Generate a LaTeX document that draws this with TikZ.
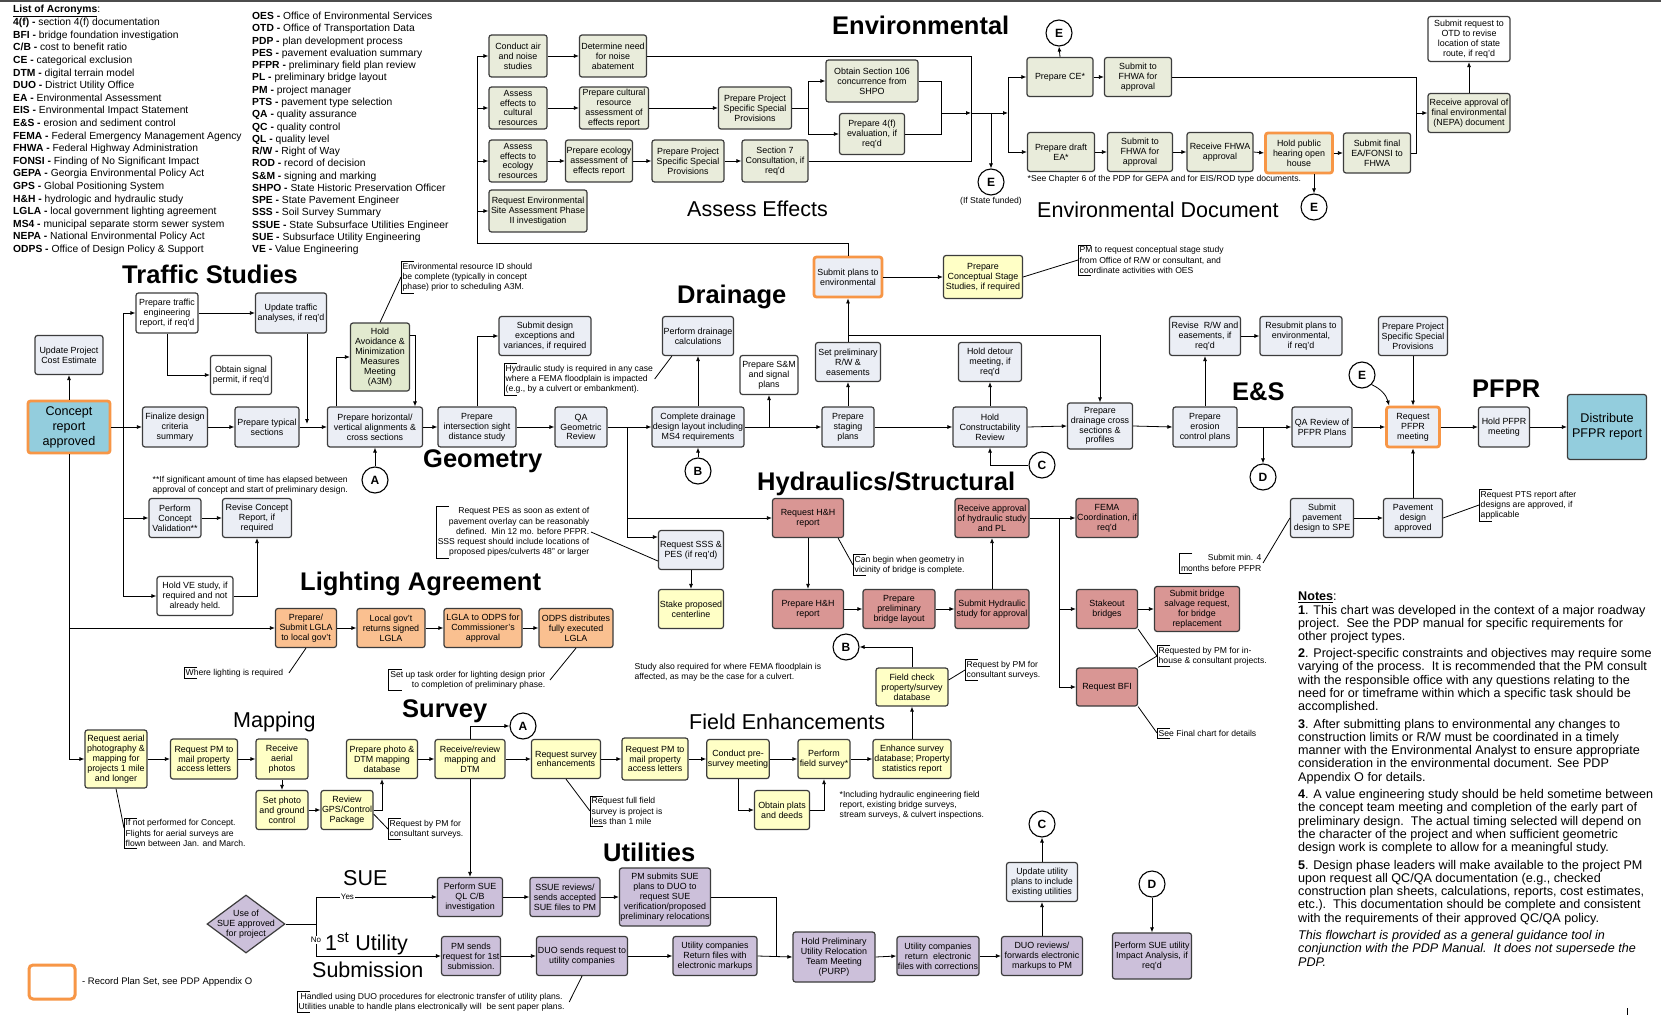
\documentclass[tikz,border=0pt]{standalone}
\usepackage{fontspec}
\setmainfont{Liberation Sans}
\usetikzlibrary{arrows.meta,shapes.geometric}

\definecolor{bd}{HTML}{3C3C3C}
\definecolor{envc}{HTML}{E9ECDB}
\definecolor{trfc}{HTML}{EBEEF5}
\definecolor{ylwc}{HTML}{FFFFC6}
\definecolor{hydc}{HTML}{D99694}
\definecolor{lgtc}{HTML}{FAC090}
\definecolor{purc}{HTML}{CCC0DA}
\definecolor{teac}{HTML}{93CDDD}
\definecolor{a3mc}{HTML}{E2EACF}
\definecolor{orgc}{HTML}{F79646}

\newcommand{\bxfont}{\fontsize{8.9}{9.9}\selectfont}
\newcommand{\bigbxfont}{\fontsize{12.6}{15}\selectfont}
\newcommand{\ntfont}{\fontsize{8.6}{10.2}\selectfont}
\newcommand{\ttlb}{\fontsize{25.5}{28}\selectfont\bfseries}
\newcommand{\ttlr}{\fontsize{21.5}{24}\selectfont}
\newcommand{\acr}[2]{\textbf{#1 -} #2}
\newcommand{\notebrk}[1]{\draw[line width=0.7pt] ([xshift=13pt]#1.north west) -| (#1.south west) -- ++(13,0);}

\begin{document}
\begin{tikzpicture}[x=1pt,y=-1pt,
  bx/.style={draw=bd, line width=1.2pt, rounded corners=2.5pt, align=center, inner sep=1pt, font=\bxfont, fill=trfc},
  sz/.style 2 args={minimum width=#1pt, minimum height=#2pt},
  envbox/.style={bx, fill=envc},
  trfbox/.style={bx, fill=trfc},
  whtbox/.style={bx, fill=white},
  ylwbox/.style={bx, fill=ylwc},
  hydbox/.style={bx, fill=hydc},
  lgtbox/.style={bx, fill=lgtc},
  purbox/.style={bx, fill=purc},
  a3mbox/.style={bx, fill=a3mc},
  teabox/.style={bx, fill=teac, font=\bigbxfont},
  recplan/.style={draw=orgc, line width=2.8pt},
  cir/.style={circle, draw=black, line width=1.1pt, fill=white, minimum size=26pt, inner sep=0pt, font=\bfseries\fontsize{12}{12}\selectfont},
  ln/.style={line width=0.8pt},
  arr/.style={line width=0.8pt, -{Latex[length=5pt,width=4pt]}},
  note/.style={font=\ntfont, inner sep=1.5pt, align=left},
  ttlB/.style={font=\ttlb, inner sep=0pt, anchor=base west},
  ttlR/.style={font=\ttlr, inner sep=0pt, anchor=base west},
]
\fill[white] (0,0) rectangle (1661,1016);
\useasboundingbox (0,0) rectangle (1661,1016);
\draw[line width=1.6pt, black!70] (0,1) -- (1661,1);

% ---------------- acronyms ----------------
\node[anchor=base west, inner sep=0pt, font=\fontsize{10.3}{12.5}\selectfont] (acrH) at (13,13) {\textbf{\underline{List of Acronyms}}:};
\node[anchor=north west, inner sep=0pt, align=left, font=\fontsize{10.3}{12.6}\selectfont] (acrL) at (13,18) {%
\acr{4(f)}{section 4(f) documentation}\\
\acr{BFI}{bridge foundation investigation}\\
\acr{C/B}{cost to benefit ratio}\\
\acr{CE}{categorical exclusion}\\
\acr{DTM}{digital terrain model}\\
\acr{DUO}{District Utility Office}\\
\acr{EA}{Environmental Assessment}\\
\acr{EIS}{Environmental Impact Statement}\\
\acr{E\&S}{erosion and sediment control}\\
\acr{FEMA}{Federal Emergency Management Agency}\\
\acr{FHWA}{Federal Highway Administration}\\
\acr{FONSI}{Finding of No Significant Impact}\\
\acr{GEPA}{Georgia Environmental Policy Act}\\
\acr{GPS}{Global Positioning System}\\
\acr{H\&H}{hydrologic and hydraulic study}\\
\acr{LGLA}{local government lighting agreement}\\
\acr{MS4}{municipal separate storm sewer system}\\
\acr{NEPA}{National Environmental Policy Act}\\
\acr{ODPS}{Office of Design Policy \& Support}};
\node[anchor=north west, inner sep=0pt, align=left, font=\fontsize{10.3}{12.26}\selectfont] (acrR) at (252,12) {%
\acr{OES}{Office of Environmental Services}\\
\acr{OTD}{Office of Transportation Data}\\
\acr{PDP}{plan development process}\\
\acr{PES}{pavement evaluation summary}\\
\acr{PFPR}{preliminary field plan review}\\
\acr{PL}{preliminary bridge layout}\\
\acr{PM}{project manager}\\
\acr{PTS}{pavement type selection}\\
\acr{QA}{quality assurance}\\
\acr{QC}{quality control}\\
\acr{QL}{quality level}\\
\acr{R/W}{Right of Way}\\
\acr{ROD}{record of decision}\\
\acr{S\&M}{signing and marking}\\
\acr{SHPO}{State Historic Preservation Officer}\\
\acr{SPE}{State Pavement Engineer}\\
\acr{SSS}{Soil Survey Summary}\\
\acr{SSUE}{State Subsurface Utilities Engineer}\\
\acr{SUE}{Subsurface Utility Engineering}\\
\acr{VE}{Value Engineering}};

% ---------------- section titles ----------------
\node[ttlB] (tEnv) at (832,35) {Environmental};
\node[ttlR] (tAss) at (687,217) {Assess Effects};
\node[ttlR] (tDoc) at (1037,218) {Environmental Document};
\node[ttlB] (tTraf) at (122,283) {Traffic Studies};
\node[ttlB] (tDrain) at (677,303) {Drainage};
\node[ttlB] (tGeo) at (423,467) {Geometry};
\node[ttlB] (tHyd) at (757,490) {Hydraulics/Structural};
\node[ttlB] (tES) at (1232,400) {E\&S};
\node[ttlB] (tPFPR) at (1472,397) {PFPR};
\node[ttlB] (tLight) at (300,590) {Lighting Agreement};
\node[ttlB] (tSurv) at (402,717) {Survey};
\node[ttlR] (tMap) at (233,727) {Mapping};
\node[ttlR] (tField) at (689,729) {Field Enhancements};
\node[ttlB] (tUtil) at (603,861) {Utilities};
\node[ttlR] (tSUE) at (343,885) {SUE};
\node[ttlR] (tFirst) at (325,950) {1\textsuperscript{st} Utility};
\node[ttlR] (tSubm) at (312,977) {Submission};

% ---------------- environmental ----------------
\node[envbox, sz={58}{42}] (conduct) at (518,56) {Conduct air\\and noise\\studies};
\node[envbox, sz={67}{42}] (noise) at (613,56) {Determine need\\for noise\\abatement};
\node[envbox, sz={58}{42}] (acult) at (518,108) {Assess\\effects to\\cultural\\resources};
\node[envbox, sz={69}{42}] (pcult) at (614,108) {Prepare cultural\\resource\\assessment of\\effects report};
\node[envbox, sz={73}{42}] (pssp1) at (755,108) {Prepare Project\\Specific Special\\Provisions};
\node[envbox, sz={58}{42}] (aeco) at (518,161) {Assess\\effects to\\ecology\\resources};
\node[envbox, sz={67}{42}] (peco) at (599,161) {Prepare ecology\\assessment of\\effects report};
\node[envbox, sz={72}{42}] (pssp2) at (688,161) {Prepare Project\\Specific Special\\Provisions};
\node[envbox, sz={66}{42}] (sec7) at (775,161) {Section 7\\Consultation, if\\req'd};
\node[envbox, sz={98}{42}] (esa) at (538,211) {Request Environmental\\Site Assessment Phase\\II investigation};
\node[envbox, sz={92}{42}] (obtain) at (872,81) {Obtain Section 106\\concurrence from\\SHPO};
\node[envbox, sz={65}{41}] (p4f) at (872,134) {Prepare 4(f)\\evaluation, if\\req'd};
\node[envbox, sz={66}{39}] (prepce) at (1060,77) {Prepare CE*};
\node[envbox, sz={67}{39}] (subf1) at (1138,77) {Submit to\\FHWA for\\approval};
\node[envbox, sz={67}{39}] (draftea) at (1061,152) {Prepare draft\\EA*};
\node[envbox, sz={65}{39}] (subf2) at (1140,152) {Submit to\\FHWA for\\approval};
\node[envbox, sz={66}{39}] (recf) at (1220,152) {Receive FHWA\\approval};
\node[envbox, recplan, sz={67}{40}] (hearing) at (1299,153) {Hold public\\hearing open\\house};
\node[envbox, sz={67}{40}] (subfin) at (1377,153) {Submit final\\EA/FONSI to\\FHWA};
\node[envbox, sz={82}{39}] (recfin) at (1469,113) {Receive approval of\\final environmental\\(NEPA) document};
\node[whtbox, sz={82}{45}] (otd) at (1469,39) {Submit request to\\OTD to revise\\location of state\\route, if req'd};
\node[cir] (cEtop) at (1059,33) {E};
\node[cir] (cEsf) at (991,182) {E};
\node[cir] (cEhear) at (1314,207) {E};
\node[note] (nSFd) at (991,201) {(If State funded)};
\node[note, anchor=west] (nCh) at (1026,179) {*See Chapter 6 of the PDP for GEPA and for EIS/ROD type documents.};

\coordinate (envL) at (477,243);
\coordinate (jP) at (808,108);
\coordinate (jA) at (941,113);
\coordinate (jB) at (971,113);
\coordinate (jD) at (991,113);
\coordinate (jC) at (1008,113);
\coordinate (jF) at (1416,113);

% ---------------- traffic studies ----------------
\node[whtbox, sz={62}{40}] (ptraffic) at (167,313) {Prepare traffic\\engineering\\report, if req'd};
\node[trfbox, sz={71}{40}] (updtraffic) at (291,313) {Update traffic\\analyses, if req'd};
\node[trfbox, sz={68}{39}] (updcost) at (69,355) {Update Project\\Cost Estimate};
\node[teabox, recplan, sz={82}{52}] (concept) at (69,427) {Concept\\report\\approved};
\node[whtbox, sz={61}{39}] (signal) at (241,375) {Obtain signal\\permit, if req'd};
\node[trfbox, sz={65}{40}] (finalize) at (175,427) {Finalize design\\criteria\\summary};
\node[trfbox, sz={64}{40}] (ptypical) at (267,427) {Prepare typical\\sections};
\node[a3mbox, sz={59}{68}] (a3m) at (380,357) {Hold\\Avoidance \&\\Minimization\\Measures\\Meeting\\(A3M)};
\node[trfbox, sz={95}{40}] (phoriz) at (375,427) {Prepare horizontal/\\vertical alignments \&\\cross sections};
\node[cir] (cA) at (375,480) {A};
\node[trfbox, sz={52}{39}] (pcv) at (175,518) {Perform\\Concept\\Validation**};
\node[trfbox, sz={69}{39}] (revcon) at (257,518) {Revise Concept\\Report, if\\required};
\node[whtbox, sz={76}{39}] (holdve) at (195,596) {Hold VE study, if\\required and not\\already held.};
\node[note, anchor=west] (nSig) at (151,485) {**If significant amount of time has elapsed between\\approval of concept and start of preliminary design.};
\node[note, anchor=west] (nEnv) at (401,277) {Environmental resource ID should\\be complete (typically in concept\\phase) prior to scheduling A3M.};
\notebrk{nEnv}
\coordinate (tTop) at (123,313);
\coordinate (tBot) at (123,596);
\coordinate (tU) at (307,424);

% ---------------- geometry ----------------
\node[trfbox, sz={78}{40}] (pisd) at (477,427) {Prepare\\intersection sight\\distance study};
\node[trfbox, sz={92}{39}] (subdes) at (545,336) {Submit design\\exceptions and\\variances, if required};
\node[trfbox, sz={52}{40}] (qa) at (581,427) {QA\\Geometric\\Review};
\node[trfbox, sz={90}{40}] (cdrain) at (698,427) {Complete drainage\\design layout including\\MS4 requirements};
\node[cir] (cB) at (698,471) {B};
\node[trfbox, sz={71}{39}] (pdcalc) at (698,336) {Perform drainage\\calculations};
\node[whtbox, sz={58}{39}] (sm) at (769,375) {Prepare S\&M\\and signal\\plans};
\node[trfbox, sz={65}{39}] (reqsss) at (691,550) {Request SSS \&\\PES (if req'd)};
\node[ylwbox, sz={65}{39}] (stakec) at (691,609) {Stake proposed\\centerline};
\node[note, anchor=west] (nHyd) at (504,379) {Hydraulic study is required in any case\\where a FEMA floodplain is impacted\\(e.g., by a culvert or embankment).};
\notebrk{nHyd}
\node[note, align=right, anchor=east] (nPES) at (591,532) {Request PES as soon as extent of\\pavement overlay can be reasonably\\defined.\ \ Min 12 mo. before PFPR.\\SSS request should include locations of\\proposed pipes/culverts 48" or larger};
\notebrk{nPES}
\coordinate (gJ) at (627,427);

% ---------------- drainage / E&S / PFPR ----------------
\node[trfbox, recplan, sz={68}{40}] (subenv) at (848,277) {Submit plans to\\environmental};
\node[ylwbox, sz={79}{43}] (pcs) at (983,277) {Prepare\\Conceptual Stage\\Studies, if required};
\node[note, anchor=west] (nPM) at (1078,260) {PM to request conceptual stage study\\from Office of R/W or consultant, and\\coordinate activities with OES};
\notebrk{nPM}
\node[trfbox, sz={65}{39}] (setrw) at (848,362) {Set preliminary\\R/W \&\\easements};
\node[trfbox, sz={52}{40}] (staging) at (848,427) {Prepare\\staging\\plans};
\node[trfbox, sz={63}{39}] (detour) at (990,362) {Hold detour\\meeting, if\\req'd};
\node[trfbox, sz={74}{40}] (hcr) at (990,427) {Hold\\Constructability\\Review};
\node[cir] (cC) at (1042,465) {C};
\node[trfbox, sz={65}{46}] (dcross) at (1100,426) {Prepare\\drainage cross\\sections \&\\profiles};
\node[trfbox, sz={64}{40}] (erosion) at (1205,427) {Prepare\\erosion\\control plans};
\node[trfbox, sz={71}{39}] (revrw) at (1205,336) {Revise\ \ R/W and\\easements, if\\req'd};
\node[trfbox, sz={82}{39}] (resub) at (1301,336) {Resubmit plans to\\environmental,\\if req'd};
\node[trfbox, sz={69}{39}] (pssp3) at (1413,336) {Prepare Project\\Specific Special\\Provisions};
\node[trfbox, sz={60}{40}] (qarev) at (1322,427) {QA Review of\\PFPR Plans};
\node[cir] (cD) at (1263,477) {D};
\node[trfbox, recplan, sz={53}{40}] (rpfpr) at (1413,427) {Request\\PFPR\\meeting};
\node[cir] (cEp) at (1362,375) {E};
\node[trfbox, sz={51}{40}] (hpfpr) at (1504,427) {Hold PFPR\\meeting};
\node[teabox, sz={79}{65}] (dist) at (1607,427) {Distribute\\PFPR report};
\node[trfbox, sz={63}{39}] (subpav) at (1322,518) {Submit\\pavement\\design to SPE};
\node[trfbox, sz={59}{39}] (pavapp) at (1413,518) {Pavement\\design\\approved};
\node[note, anchor=west] (nPTS) at (1479,505) {Request PTS report after\\designs are approved, if\\applicable};
\notebrk{nPTS}
\node[note, align=right, anchor=east] (nMin) at (1263,563) {Submit min. 4\\months before PFPR};
\notebrk{nMin}
\coordinate (jR) at (848,335);

% ---------------- hydraulics / structural ----------------
\node[hydbox, sz={71}{39}] (reqhh) at (808,518) {Request H\&H\\report};
\node[hydbox, sz={71}{39}] (prephh) at (808,609) {Prepare H\&H\\report};
\node[hydbox, sz={72}{39}] (ppbl) at (899,609) {Prepare\\preliminary\\bridge layout};
\node[hydbox, sz={74}{39}] (subhyd) at (992,609) {Submit Hydraulic\\study for approval};
\node[hydbox, sz={74}{39}] (recapp) at (992,518) {Receive approval\\of hydraulic study\\and PL};
\node[hydbox, sz={61}{39}] (fema) at (1107,518) {FEMA\\Coordination, if\\req'd};
\node[hydbox, sz={61}{39}] (stake) at (1107,609) {Stakeout\\bridges};
\node[hydbox, sz={85}{45}] (salv) at (1197,609) {Submit bridge\\salvage request,\\for bridge\\replacement};
\node[hydbox, sz={61}{38}] (bfi) at (1107,687) {Request BFI};
\node[note, anchor=west] (nCan) at (853,565) {Can begin when geometry in\\vicinity of bridge is complete.};
\notebrk{nCan}
\node[note, anchor=west] (nRB) at (1157,656) {Requested by PM for in-\\house \& consultant projects.};
\notebrk{nRB}
\node[note, anchor=west] (nSF) at (1157,733) {See Final chart for details};
\notebrk{nSF}
\node[note, anchor=west] (nFl) at (633,672) {Study also required for where FEMA floodplain is\\affected, as may be the case for a culvert.};
\coordinate (hJ) at (1059,518);

% ---------------- lighting agreement ----------------
\node[lgtbox, sz={61}{39}] (lg1) at (306,628) {Prepare/\\Submit LGLA\\to local gov't};
\node[lgtbox, sz={68}{39}] (lg2) at (391,628) {Local gov't\\returns signed\\LGLA};
\node[lgtbox, sz={78}{39}] (lg3) at (483,628) {LGLA to ODPS for\\Commissioner's\\approval};
\node[lgtbox, sz={74}{39}] (lg4) at (576,628) {ODPS distributes\\fully executed\\LGLA};
\node[note, anchor=west] (nWL) at (184,673) {Where lighting is required};
\notebrk{nWL}
\node[note, align=right, anchor=east] (nSU) at (547,680) {Set up task order for lighting design prior\\to completion of preliminary phase.};
\notebrk{nSU}

% ---------------- mapping / survey / field ----------------
\node[ylwbox, sz={62}{58}] (aerial) at (116,759) {Request aerial\\photography \&\\mapping for\\projects 1 mile\\and longer};
\node[ylwbox, sz={67}{40}] (reqpm1) at (204,759) {Request PM to\\mail property\\access letters};
\node[ylwbox, sz={52}{40}] (recph) at (282,759) {Receive\\aerial\\photos};
\node[ylwbox, sz={52}{39}] (setph) at (282,810) {Set photo\\and ground\\control};
\node[ylwbox, sz={52}{39}] (revgps) at (347,810) {Review\\GPS/Control\\Package};
\node[ylwbox, sz={71}{39}] (prepph) at (382,759) {Prepare photo \&\\DTM mapping\\database};
\node[ylwbox, sz={70}{39}] (recrev) at (470,759) {Receive/review\\mapping and\\DTM};
\node[cir] (cA2) at (523,726) {A};
\node[ylwbox, sz={69}{39}] (reqsurv) at (566,759) {Request survey\\enhancements};
\node[ylwbox, sz={66}{42}] (reqpm2) at (655,759) {Request PM to\\mail property\\access letters};
\node[ylwbox, sz={61}{39}] (condpre) at (738,759) {Conduct pre-\\survey meeting};
\node[ylwbox, sz={52}{39}] (perf) at (824,759) {Perform\\field survey*};
\node[ylwbox, sz={55}{39}] (plats) at (782,810) {Obtain plats\\and deeds};
\node[ylwbox, sz={78}{39}] (enh) at (912,759) {Enhance survey\\database; Property\\statistics report};
\node[ylwbox, sz={72}{38}] (fchk) at (912,687) {Field check\\property/survey\\database};
\node[cir] (cB2) at (846,647) {B};
\node[note, anchor=west] (nIN) at (124,833) {If not performed for Concept.\\Flights for aerial surveys are\\flown between Jan. and March.};
\notebrk{nIN}
\node[note, anchor=west] (nCS1) at (388,829) {Request by PM for\\consultant surveys.};
\notebrk{nCS1}
\node[note, anchor=west] (nFF) at (590,811) {Request full field\\survey is project is\\less than 1 mile};
\notebrk{nFF}
\node[note, anchor=west] (nCS2) at (965,670) {Request by PM for\\consultant surveys.};
\notebrk{nCS2}
\node[note, anchor=west] (nInc) at (838,805) {*Including hydraulic engineering field\\report, existing bridge surveys,\\stream surveys, \& culvert inspections.};

% ---------------- SUE / utilities ----------------
\node[diamond, draw=bd, line width=1.2pt, fill=purc, minimum width=78pt, minimum height=58pt, inner sep=0pt] (sue) at (246,924) {};
\node[font=\bxfont, align=center, inner sep=0pt] (suet) at (sue.center) {Use of\\SUE approved\\for project};
\node[purbox, sz={65}{39}] (psue) at (470,897) {Perform SUE\\QL C/B\\investigation};
\node[purbox, sz={70}{39}] (ssue) at (565,897) {SSUE reviews/\\sends accepted\\SUE files to PM};
\node[purbox, sz={91}{58}] (pmsub) at (665,897) {PM submits SUE\\plans to DUO to\\request SUE\\verification/proposed\\preliminary relocations};
\node[purbox, sz={58}{39}] (pmsend) at (471,956) {PM sends\\request for 1st\\submission.};
\node[purbox, sz={91}{39}] (duosend) at (582,956) {DUO sends request to\\utility companies};
\node[purbox, sz={84}{39}] (utilret) at (715,956) {Utility companies\\Return files with\\electronic markups};
\node[purbox, sz={82}{50}] (hold) at (834,957) {Hold Preliminary\\Utility Relocation\\Team Meeting\\(PURP)};
\node[purbox, sz={81}{39}] (utilcor) at (938,956) {Utility companies\\return\ \ electronic\\files with corrections};
\node[purbox, sz={81}{39}] (duorev) at (1042,956) {DUO reviews/\\forwards electronic\\markups to PM};
\node[trfbox, sz={71}{39}] (updutil) at (1042,882) {Update utility\\plans to include\\existing utilities};
\node[cir] (cC2) at (1042,824) {C};
\node[cir] (cD2) at (1152,884) {D};
\node[purbox, sz={79}{46}] (sueia) at (1152,956) {Perform SUE utility\\Impact Analysis, if\\req'd};
\node[note, align=center, anchor=west] (nHD) at (297,1002) {Handled using DUO procedures for electronic transfer of utility plans.\\Utilities unable to handle plans electronically will\ \ be sent paper plans.};
\notebrk{nHD}
\coordinate (sJ) at (316,924);
\coordinate (sK) at (776,956);

% ---------------- legend ----------------
\node[draw=orgc, line width=3pt, rounded corners=4pt, minimum width=46pt, minimum height=34pt] (leg) at (52,982) {};
\node[anchor=west, inner sep=0pt, font=\fontsize{9.5}{11}\selectfont] (legt) at (82,982) {- Record Plan Set, see PDP Appendix O};

% ---------------- notes ----------------
\node[anchor=north west, inner sep=0pt, align=left, font=\fontsize{12.6}{13.3}\selectfont] (notes) at (1298,592) {%
\textbf{\underline{Notes}}:\\
\textbf{1}. This chart was developed in the context of a major roadway\\
project.\ \ See the PDP manual for specific requirements for\\
other project types.\\[3.5pt]
\textbf{2}. Project-specific constraints and objectives may require some\\
varying of the process.\ \ It is recommended that the PM consult\\
with the responsible office with any questions relating to the\\
need for or timeframe within which a specific task should be\\
accomplished.\\[4pt]
\textbf{3}. After submitting plans to environmental any changes to\\
construction limits or R/W must be coordinated in a timely\\
manner with the Environmental Analyst to ensure appropriate\\
consideration in the environmental document. See PDP\\
Appendix O for details.\\[4pt]
\textbf{4}. A value engineering study should be held sometime between\\
the concept team meeting and completion of the early part of\\
preliminary design.\ \ The actual timing selected will depend on\\
the character of the project and when sufficient geometric\\
design work is complete to allow for a meaningful study.\\[4pt]
\textbf{5}. Design phase leaders will make available to the project PM\\
upon request all QC/QA documentation (e.g., checked\\
construction plan sheets, calculations, reports, cost estimates,\\
etc.).\ \ This documentation should be complete and consistent\\
with the requirements of their approved QC/QA policy.\\[4pt]
\textit{This flowchart is provided as a general guidance tool in}\\
\textit{conjunction with the PDP Manual.\ \ It does not supersede the}\\
\textit{PDP.}};
\draw[line width=0.6pt] (1627,1008) -- (1627,1015);

% ================= connectors =================
% environmental
\draw[ln] (subenv.north) |- (envL);
\draw[arr] (envL) |- (conduct.west);
\draw[arr] (envL) |- (acult.west);
\draw[arr] (envL) |- (aeco.west);
\draw[arr] (envL) |- (esa.west);
\draw[arr] (conduct.east) -- (noise.west);
\draw[arr] (acult.east) -- (pcult.west);
\draw[arr] (pcult.east) -- (pssp1.west);
\draw[arr] (aeco.east) -- (peco.west);
\draw[arr] (peco.east) -- (pssp2.west);
\draw[arr] (pssp2.east) -- (sec7.west);
\draw[ln] (pssp1.east) -- (jP);
\draw[arr] (jP) |- (obtain.west);
\draw[arr] (jP) |- (p4f.west);
\draw[ln] (obtain.east) -| (jA);
\draw[ln] (p4f.east) -| (jA);
\draw[arr] (jA) -- (jB);
\draw[ln] (noise.east) -| (jB);
\draw[ln] (sec7.east) -| (jB);
\draw[arr] (jB) -- (jC);
\draw[arr] (jD) -- (cEsf.north);
\draw[arr] (jC) |- (prepce.west);
\draw[arr] (jC) |- (draftea.west);
\draw[arr] (prepce.north) -- (cEtop.south);
\draw[arr] (prepce.east) -- (subf1.west);
\draw[arr] (draftea.east) -- (subf2.west);
\draw[arr] (subf2.east) -- (recf.west);
\draw[arr] (recf.east) -- (hearing.west);
\draw[arr] (hearing.east) -- (subfin.west);
\draw[arr] ([xshift=15pt]hearing.south) -- (cEhear.north);
\draw[ln] (subf1.east) -| (jF);
\draw[ln] (subfin.east) -| (jF);
\draw[arr] (jF) -- (recfin.west);
\draw[arr] (recfin.north) -- (otd.south);

% traffic studies
\draw[arr] (concept.north) -- (updcost.south);
\draw[arr] (concept.east) -- (finalize.west);
\draw[ln] (tTop) -- (tBot);
\draw[arr] (tTop) -- (ptraffic.west);
\draw[arr] (tTop |- pcv.west) -- (pcv.west);
\draw[arr] (tBot) -- (holdve.west);
\draw[arr] (ptraffic.east) -- (updtraffic.west);
\draw[arr] (ptraffic.south) |- (signal.west);
\draw[arr] ([xshift=16pt]updtraffic.south) -- (tU);
\draw[arr] (finalize.east) -- (ptypical.west);
\draw[arr] (ptypical.east) -- (phoriz.west);
\draw[arr] ([xshift=-39pt]phoriz.north) |- (a3m.west);
\draw[arr] ([yshift=22pt]a3m.east) -| ([xshift=40pt]phoriz.north);
\draw[arr] (cA.north) -- (phoriz.south);
\draw[arr] (pcv.east) -- (revcon.west);
\draw[arr] (holdve.east) -| (revcon.south);
\draw[ln] (nEnv.west) -- (a3m.north);

% geometry / drainage
\draw[arr] (phoriz.east) -- (pisd.west);
\draw[arr] (pisd.north) |- (subdes.west);
\draw[arr] (pisd.east) -- (qa.west);
\draw[arr] (qa.east) -- (cdrain.west);
\draw[ln] (gJ) -- (gJ |- reqsss.north);
\draw[arr] (gJ |- reqsss.north) |- ([yshift=13pt]reqsss.west);
\draw[arr] (gJ |- reqhh.west) -- (reqhh.west);
\draw[arr] (reqsss.south) -- (stakec.north);
\draw[ln] (nPES.east) -- ([yshift=-11pt]reqsss.west);
\draw[ln] (nHyd.east) -- ([xshift=10pt]pdcalc.south west);
\draw[arr] (cB.north) -- (cdrain.south);
\draw[arr] (cdrain.north) -- (pdcalc.south);
\draw[arr] (cdrain.east) -- (staging.west);
\draw[arr] (cdrain.east -| sm.south) -- (sm.south);
\draw[arr] (staging.north) -- (setrw.south);
\draw[arr] (setrw.north) -- (subenv.south);
\draw[arr] (jR) -| (dcross.north);
\draw[arr] (subenv.east) -- (pcs.west);
\draw[ln] (pcs.east) -- (nPM.west);
\draw[arr] (staging.east) -- (hcr.west);
\draw[arr] (hcr.north) -- (detour.south);
\draw[arr] (cC.west) -| (hcr.south);
\draw[arr] (hcr.east) -- (dcross.west);
\draw[arr] (dcross.east) -- (erosion.west);
\draw[arr] (erosion.north) -- (revrw.south);
\draw[arr] (revrw.east) -- (resub.west);
\draw[arr] (erosion.east) -- (qarev.west);
\draw[arr] (erosion.east -| cD.north) -- (cD.north);
\draw[arr] (qarev.east) -- (rpfpr.west);
\draw[arr] (pssp3.south) -- (rpfpr.north);
\draw[arr] (cEp.south east) to[out=-25, in=105] ([xshift=4pt]rpfpr.north west);
\draw[arr] (rpfpr.east) -- (hpfpr.west);
\draw[arr] (hpfpr.east) -- (dist.west);
\draw[arr] (subpav.east) -- (pavapp.west);
\draw[arr] (pavapp.north) -- (rpfpr.south);
\draw[ln] (pavapp.east) -- (nPTS.west);
\draw[ln] (nMin.east) -- (subpav.west);

% hydraulics / structural
\draw[arr] (reqhh.south) -- (prephh.north);
\draw[arr] (prephh.east) -- (ppbl.west);
\draw[arr] (ppbl.east) -- (subhyd.west);
\draw[arr] (subhyd.north) -- (recapp.south);
\draw[arr] (recapp.east) -- (fema.west);
\draw[ln] (hJ) -- (hJ |- bfi.west);
\draw[arr] (hJ |- stake.west) -- (stake.west);
\draw[arr] (hJ |- bfi.west) -- (bfi.west);
\draw[arr] (stake.east) -- (salv.west);
\draw[ln] (nCan.west) -- ([xshift=-6pt]reqhh.south east);
\draw[ln] (stake.south east) -- (nRB.west);
\draw[ln] (bfi.north east) -- (nRB.west);
\draw[ln] (bfi.south east) -- (nSF.west);

% lighting
\draw[ln] (concept.south) -- (concept.south |- aerial.west);
\draw[arr] (concept.south |- lg1.west) -- (lg1.west);
\draw[arr] (concept.south |- aerial.west) -- (aerial.west);
\draw[arr] (lg1.east) -- (lg2.west);
\draw[arr] (lg2.east) -- (lg3.west);
\draw[arr] (lg3.east) -- (lg4.west);
\draw[ln] (lg1.south) -- ([xshift=4pt]nWL.east);
\draw[ln] (lg4.south) -- ([xshift=3pt]nSU.east);

% mapping / survey / field enhancements
\draw[arr] (aerial.east) -- (reqpm1.west);
\draw[arr] (reqpm1.east) -- (recph.west);
\draw[arr] (recph.south) -- (setph.north);
\draw[arr] (setph.east) -- (revgps.west);
\draw[arr] (revgps.east) -| (prepph.south);
\draw[arr] (prepph.east) -- (recrev.west);
\draw[arr] (recrev.north) |- (cA2.west);
\draw[arr] (recrev.east) -- (reqsurv.west);
\draw[arr] (reqsurv.east) -- (reqpm2.west);
\draw[arr] (reqpm2.east) -- (condpre.west);
\draw[arr] (condpre.east) -- (perf.west);
\draw[arr] (condpre.south) |- (plats.west);
\draw[arr] (plats.east) -| (perf.south);
\draw[arr] (perf.east) -- (enh.west);
\draw[arr] (enh.north) -- (fchk.south);
\draw[arr] (fchk.north) |- (cB2.east);
\draw[ln] (aerial.south) -- ([yshift=-10pt]nIN.north west);
\draw[ln] ([yshift=-4pt]revgps.east) -- (nCS1.west);
\draw[ln] (reqsurv.south) -- (nFF.west);
\draw[ln] ([yshift=7pt]fchk.east) -- (nCS2.west);
\draw[arr] (recrev.south) -- (psue.north);

% SUE / utilities
\draw[ln] (sue.east) -- (sJ);
\draw[arr] (sJ) |- (psue.west) node[pos=0.63, fill=white, inner sep=1pt, font=\fontsize{8}{9}\selectfont] (lyes) {Yes};
\draw[arr] (sJ) |- (pmsend.west) node[pos=0.25, fill=white, inner sep=1pt, font=\fontsize{8}{9}\selectfont] (lno) {No};
\draw[arr] (psue.east) -- (ssue.west);
\draw[arr] (ssue.east) -- (pmsub.west);
\draw[ln] (pmsub.east) -| (sK);
\draw[arr] (pmsend.east) -- (duosend.west);
\draw[arr] (duosend.east) -- (utilret.west);
\draw[arr] (utilret.east) -- (hold.west);
\draw[arr] (hold.east) -- (utilcor.west);
\draw[arr] (utilcor.east) -- (duorev.west);
\draw[arr] (duorev.north) -- (updutil.south);
\draw[arr] (updutil.north) -- (cC2.south);
\draw[arr] (cD2.south) -- (sueia.north);
\draw[ln] ([xshift=3pt]nHD.east) -- (duosend.south);
\end{tikzpicture}
\end{document}
